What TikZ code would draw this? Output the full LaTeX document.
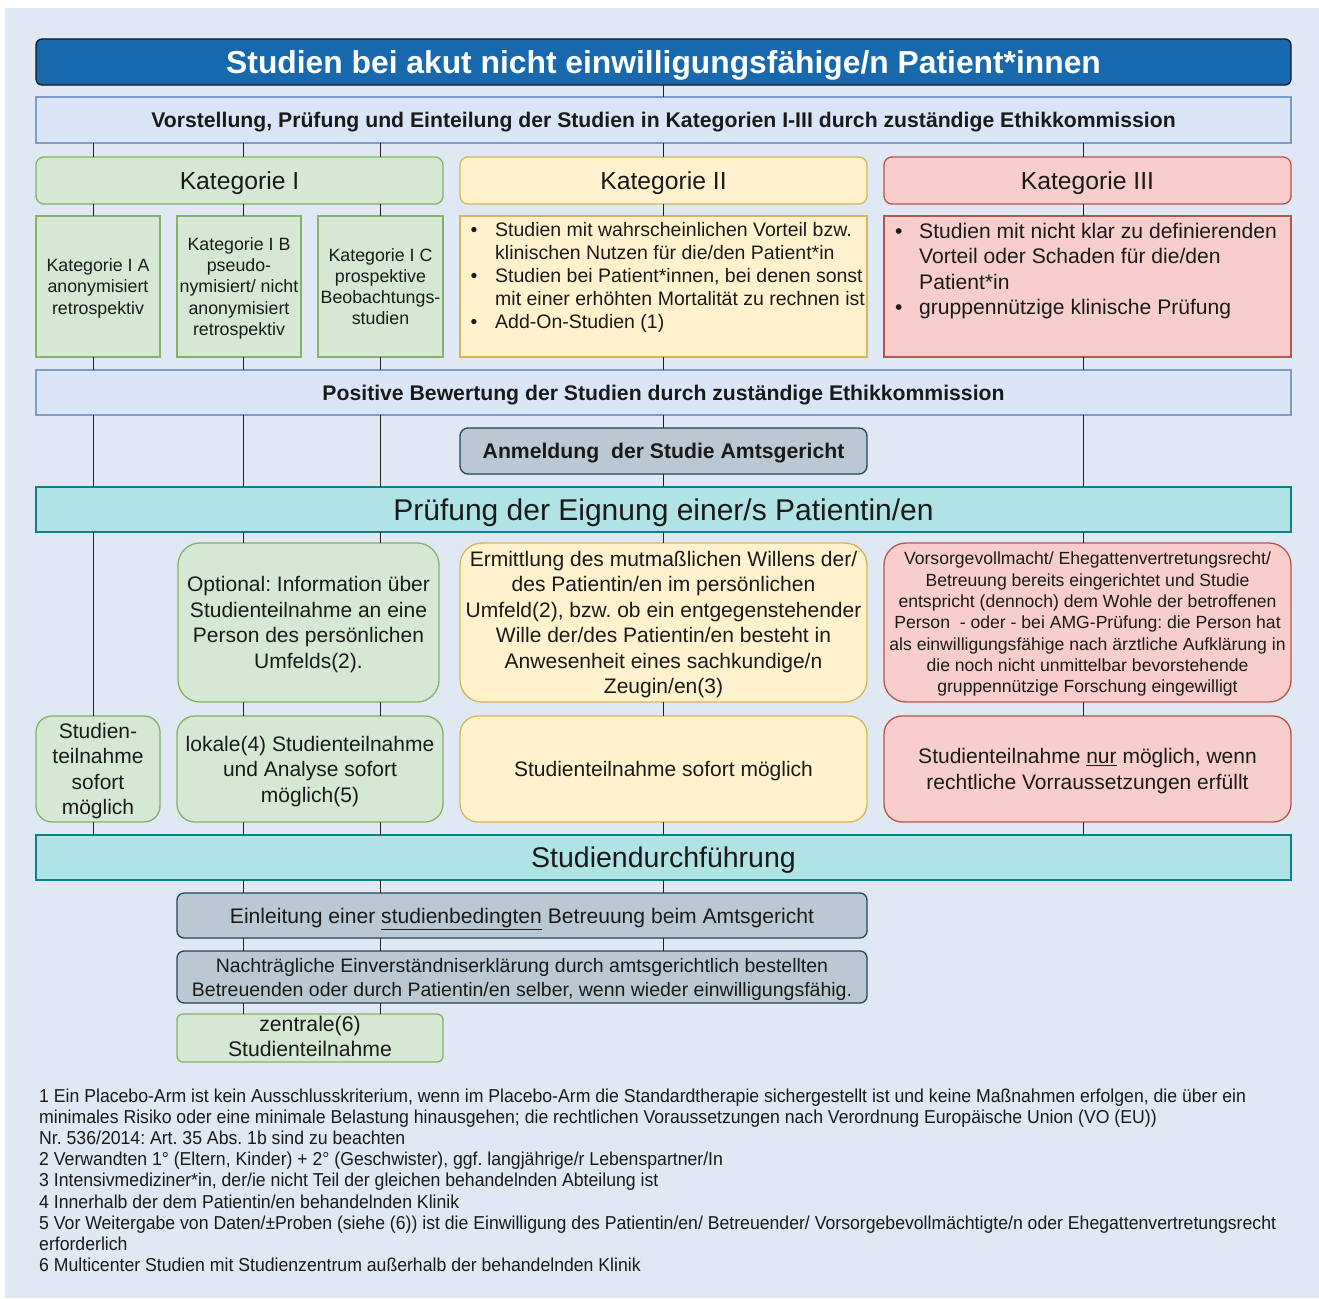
\documentclass[tikz,border=0pt]{standalone}
\usepackage{fontspec}
\setmainfont{Liberation Sans}
\newfontfamily\narrowsans[FakeStretch=0.944]{Liberation Sans}
\frenchspacing
\definecolor{bg}{HTML}{DFE8F3}
\definecolor{txt}{HTML}{1A1A1A}
\definecolor{titlefill}{HTML}{1768AC}
\definecolor{bluefill}{HTML}{DAE6F8}
\definecolor{blueline}{HTML}{7C9CCB}
\definecolor{greenfill}{HTML}{D5E8D4}
\definecolor{greenline}{HTML}{82B366}
\definecolor{yellowfill}{HTML}{FFF2CC}
\definecolor{yellowline}{HTML}{D6B656}
\definecolor{redfill}{HTML}{F8CECC}
\definecolor{redline}{HTML}{B85450}
\definecolor{greyfill}{HTML}{BAC8D3}
\definecolor{greyline}{HTML}{23445D}
\definecolor{tealfill}{HTML}{B0E3E6}
\definecolor{tealline}{HTML}{0E8088}
\definecolor{connc}{HTML}{222222}
\tikzset{
  box/.style={draw, line width=1.3pt, inner sep=0pt, outer sep=0pt, align=center, text=txt, text depth=0pt},
  bluebox/.style={box, fill=bluefill, draw=blueline},
  greenbox/.style={box, fill=greenfill, draw=greenline},
  yellowbox/.style={box, fill=yellowfill, draw=yellowline},
  redbox/.style={box, fill=redfill, draw=redline},
  greybox/.style={box, fill=greyfill, draw=greyline},
  tealbox/.style={box, fill=tealfill, draw=tealline},
  conn/.style={draw=connc, line width=1.4pt},
  fbig/.style={font=\fontsize{21}{25.5}\selectfont},
  fsmall/.style={font=\fontsize{17.8}{21.2}\selectfont},
  fbold/.style={font=\fontsize{21.2}{25}\selectfont\bfseries},
  fnote/.style={anchor=base west, inner sep=0pt, text=txt, font=\fontsize{18.7}{21}\selectfont\narrowsans},
}
\begin{document}
\frenchspacing
\begin{tikzpicture}[x=1pt,y=-1pt]
\useasboundingbox (0,0) rectangle (1319,1298);
\fill[bg] (5,8) rectangle (1319,1298);

\coordinate (c1) at (93.5,0);
\coordinate (c2) at (243.5,0);
\coordinate (c3) at (380.5,0);
\coordinate (c4) at (663.5,0);
\coordinate (c5) at (1083.5,0);

% title
\node[box, fill=titlefill, draw=txt, rounded corners=6pt, text=white,
  minimum width=1255pt, minimum height=46pt,
  font=\fontsize{31.8}{36}\selectfont\bfseries] (title) at (663.5,62)
  {Studien bei akut nicht einwilligungsfähige/n Patient*innen};

\node[bluebox, fbold, minimum width=1255pt, minimum height=46pt] (vor) at (663.5,120)
  {Vorstellung, Prüfung und Einteilung der Studien in Kategorien I-III durch zuständige Ethikkommission};

% category headers
\node[greenbox, rounded corners=8pt, minimum width=407pt, minimum height=47pt,
  font=\fontsize{24.7}{28}\selectfont] (k1) at (239.5,180.5) {Kategorie I};
\node[yellowbox, rounded corners=8pt, minimum width=407pt, minimum height=47pt,
  font=\fontsize{24.7}{28}\selectfont] (k2) at (663.5,180.5) {Kategorie II};
\node[redbox, rounded corners=8pt, minimum width=407pt, minimum height=47pt,
  font=\fontsize{24.7}{28}\selectfont] (k3) at (1087.5,180.5) {Kategorie III};

% sub boxes
\node[greenbox, fsmall, minimum width=124pt, minimum height=141pt] (ia) at (98,286.5)
  {Kategorie I A\\anonymisiert\\retrospektiv};
\node[greenbox, fsmall, minimum width=124pt, minimum height=141pt] (ib) at (239,286.5)
  {Kategorie I B\\pseudo-\\nymisiert/ nicht\\anonymisiert\\retrospektiv};
\node[greenbox, fsmall, minimum width=125pt, minimum height=141pt] (ic) at (380.5,286.5)
  {Kategorie I C\\prospektive\\Beobachtungs-\\studien};
\node[yellowbox, minimum width=407pt, minimum height=141pt] (k2b) at (663.5,286.5) {};
\node[redbox, minimum width=407pt, minimum height=141pt] (k3b) at (1087.5,286.5) {};

\node[anchor=base west, inner sep=0pt, text=txt, align=left,
  font=\fontsize{19.5}{23.2}\selectfont] (k2t) at (470.5,236)
  {\begin{tabular}[t]{@{}l@{}l@{}}
   \makebox[24.5pt][l]{\textbullet} & Studien mit wahrscheinlichen Vorteil bzw.\\
   & klinischen Nutzen für die/den Patient*in\\
   \makebox[24.5pt][l]{\textbullet} & Studien bei Patient*innen, bei denen sonst\\
   & mit einer erhöhten Mortalität zu rechnen ist\\
   \makebox[24.5pt][l]{\textbullet} & Add-On-Studien (1)
   \end{tabular}};
\node[anchor=base west, inner sep=0pt, text=txt, align=left,
  font=\fontsize{21.1}{25.3}\selectfont] (k3t) at (895,238.5)
  {\begin{tabular}[t]{@{}l@{}l@{}}
   \makebox[24pt][l]{\textbullet} & Studien mit nicht klar zu definierenden\\
   & Vorteil oder Schaden für die/den\\
   & Patient*in\\
   \makebox[24pt][l]{\textbullet} & gruppennützige klinische Prüfung
   \end{tabular}};

\node[bluebox, fbold, minimum width=1255pt, minimum height=45pt] (pos) at (663.5,392.5)
  {Positive Bewertung der Studien durch zuständige Ethikkommission};
\node[greybox, fbold, rounded corners=8pt, minimum width=407pt, minimum height=46pt] (anm) at (663.5,451)
  {Anmeldung\ \ der Studie Amtsgericht};
\node[tealbox, minimum width=1255pt, minimum height=45pt, font=\fontsize{30}{34}\selectfont] (pru) at (663.5,509.5)
  {Prüfung der Eignung einer/s Patientin/en};

% eligibility row
\node[greenbox, fbig, rounded corners=22pt, minimum width=261pt, minimum height=159pt] (opt) at (308.5,622.5)
  {Optional: Information über\\Studienteilnahme an eine\\Person des persönlichen\\Umfelds(2).};
\node[yellowbox, fbig, rounded corners=22pt, minimum width=407pt, minimum height=159pt] (erm) at (663.5,622.5)
  {Ermittlung des mutmaßlichen Willens der/\\des Patientin/en im persönlichen\\Umfeld(2), bzw. ob ein entgegenstehender\\Wille der/des Patientin/en besteht in\\Anwesenheit eines sachkundige/n\\Zeugin/en(3)};
\node[redbox, font=\fontsize{17.6}{21.3}\selectfont, rounded corners=22pt, minimum width=407pt, minimum height=159pt] (vors) at (1087.5,622.5)
  {Vorsorgevollmacht/ Ehegattenvertretungsrecht/\\Betreuung bereits eingerichtet und Studie\\entspricht (dennoch) dem Wohle der betroffenen\\Person\ \ - oder - bei AMG-Prüfung: die Person hat\\als einwilligungsfähige nach ärztliche Aufklärung in\\die noch nicht unmittelbar bevorstehende\\gruppennützige Forschung eingewilligt};

% participation row
\node[greenbox, fbig, rounded corners=16pt, minimum width=124pt, minimum height=106pt] (st) at (98,769)
  {Studien-\\teilnahme\\sofort\\möglich};
\node[greenbox, fbig, rounded corners=18pt, minimum width=266pt, minimum height=106pt] (lok) at (310,769)
  {lokale(4) Studienteilnahme\\und Analyse sofort\\möglich(5)};
\node[yellowbox, fbig, rounded corners=18pt, minimum width=407pt, minimum height=106pt] (sof) at (663.5,769)
  {Studienteilnahme sofort möglich};
\node[redbox, fbig, rounded corners=18pt, minimum width=407pt, minimum height=106pt] (nur) at (1087.5,769)
  {Studienteilnahme \underline{nur} möglich, wenn\\rechtliche Vorraussetzungen erfüllt};

\node[tealbox, minimum width=1255pt, minimum height=45pt, font=\fontsize{28.5}{32}\selectfont] (dur) at (663.5,857.5)
  {Studiendurchführung};
\node[greybox, rounded corners=7pt, minimum width=690pt, minimum height=45pt, font=\fontsize{21.1}{24}\selectfont] (ein) at (522,915.5)
  {Einleitung einer \underline{studienbedingten} Betreuung beim Amtsgericht};
\node[greybox, rounded corners=7pt, minimum width=690pt, minimum height=52pt, font=\fontsize{19.5}{24}\selectfont] (nach) at (522,977)
  {Nachträgliche Einverständniserklärung durch amtsgerichtlich bestellten\\Betreuenden oder durch Patientin/en selber, wenn wieder einwilligungsfähig.};
\node[greenbox, text depth=4pt, rounded corners=6pt, minimum width=266pt, minimum height=48pt, font=\fontsize{21.2}{25}\selectfont] (zen) at (310,1038)
  {zentrale(6)\\Studienteilnahme};

% connectors
\draw[conn] (title.south -| c4) -- (vor.north -| c4);
\draw[conn] (vor.south -| c1) -- (k1.north -| c1);
\draw[conn] (vor.south -| c2) -- (k1.north -| c2);
\draw[conn] (vor.south -| c3) -- (k1.north -| c3);
\draw[conn] (vor.south -| c4) -- (k2.north -| c4);
\draw[conn] (vor.south -| c5) -- (k3.north -| c5);
\draw[conn] (k1.south -| c1) -- (ia.north -| c1);
\draw[conn] (k1.south -| c2) -- (ib.north -| c2);
\draw[conn] (k1.south -| c3) -- (ic.north -| c3);
\draw[conn] (k2.south -| c4) -- (k2b.north -| c4);
\draw[conn] (k3.south -| c5) -- (k3b.north -| c5);
\draw[conn] (ia.south -| c1) -- (pos.north -| c1);
\draw[conn] (ib.south -| c2) -- (pos.north -| c2);
\draw[conn] (ic.south -| c3) -- (pos.north -| c3);
\draw[conn] (k2b.south -| c4) -- (pos.north -| c4);
\draw[conn] (k3b.south -| c5) -- (pos.north -| c5);
\draw[conn] (pos.south -| c1) -- (pru.north -| c1);
\draw[conn] (pos.south -| c2) -- (pru.north -| c2);
\draw[conn] (pos.south -| c3) -- (pru.north -| c3);
\draw[conn] (pos.south -| c4) -- (anm.north -| c4);
\draw[conn] (anm.south -| c4) -- (pru.north -| c4);
\draw[conn] (pos.south -| c5) -- (pru.north -| c5);
\draw[conn] (pru.south -| c1) -- (st.north -| c1);
\draw[conn] (pru.south -| c2) -- (opt.north -| c2);
\draw[conn] (pru.south -| c3) -- (opt.north -| c3);
\draw[conn] (pru.south -| c4) -- (erm.north -| c4);
\draw[conn] (pru.south -| c5) -- (vors.north -| c5);
\draw[conn] (opt.south -| c2) -- (lok.north -| c2);
\draw[conn] (opt.south -| c3) -- (lok.north -| c3);
\draw[conn] (erm.south -| c4) -- (sof.north -| c4);
\draw[conn] (vors.south -| c5) -- (nur.north -| c5);
\draw[conn] (st.south -| c1) -- (dur.north -| c1);
\draw[conn] (lok.south -| c2) -- (dur.north -| c2);
\draw[conn] (lok.south -| c3) -- (dur.north -| c3);
\draw[conn] (sof.south -| c4) -- (dur.north -| c4);
\draw[conn] (nur.south -| c5) -- (dur.north -| c5);
\draw[conn] (dur.south -| c2) -- (ein.north -| c2);
\draw[conn] (dur.south -| c3) -- (ein.north -| c3);
\draw[conn] (dur.south -| c4) -- (ein.north -| c4);
\draw[conn] (ein.south -| c2) -- (nach.north -| c2);
\draw[conn] (ein.south -| c3) -- (nach.north -| c3);
\draw[conn] (ein.south -| c4) -- (nach.north -| c4);
\draw[conn] (nach.south -| c2) -- (zen.north -| c2);
\draw[conn] (nach.south -| c3) -- (zen.north -| c3);

% footnotes
\node[fnote] (fn1) at (39,1102) {1 Ein Placebo-Arm ist kein Ausschlusskriterium, wenn im Placebo-Arm die Standardtherapie sichergestellt ist und keine Maßnahmen erfolgen, die über ein};
\node[fnote] (fn2) at (39,1123.2) {minimales Risiko oder eine minimale Belastung hinausgehen; die rechtlichen Voraussetzungen nach Verordnung Europäische Union (VO (EU))};
\node[fnote] (fn3) at (39,1144.4) {Nr. 536/2014: Art. 35 Abs. 1b sind zu beachten};
\node[fnote] (fn4) at (39,1165.6) {2 Verwandten 1° (Eltern, Kinder) + 2° (Geschwister), ggf. langjährige/r Lebenspartner/In};
\node[fnote] (fn5) at (39,1186.8) {3 Intensivmediziner*in, der/ie nicht Teil der gleichen behandelnden Abteilung ist};
\node[fnote] (fn6) at (39,1208) {4 Innerhalb der dem Patientin/en behandelnden Klinik};
\node[fnote] (fn7) at (39,1229.2) {5 Vor Weitergabe von Daten/±Proben (siehe (6)) ist die Einwilligung des Patientin/en/ Betreuender/ Vorsorgebevollmächtigte/n oder Ehegattenvertretungsrecht};
\node[fnote] (fn8) at (39,1250.4) {erforderlich};
\node[fnote] (fn9) at (39,1271.6) {6 Multicenter Studien mit Studienzentrum außerhalb der behandelnden Klinik};
\end{tikzpicture}
\end{document}
